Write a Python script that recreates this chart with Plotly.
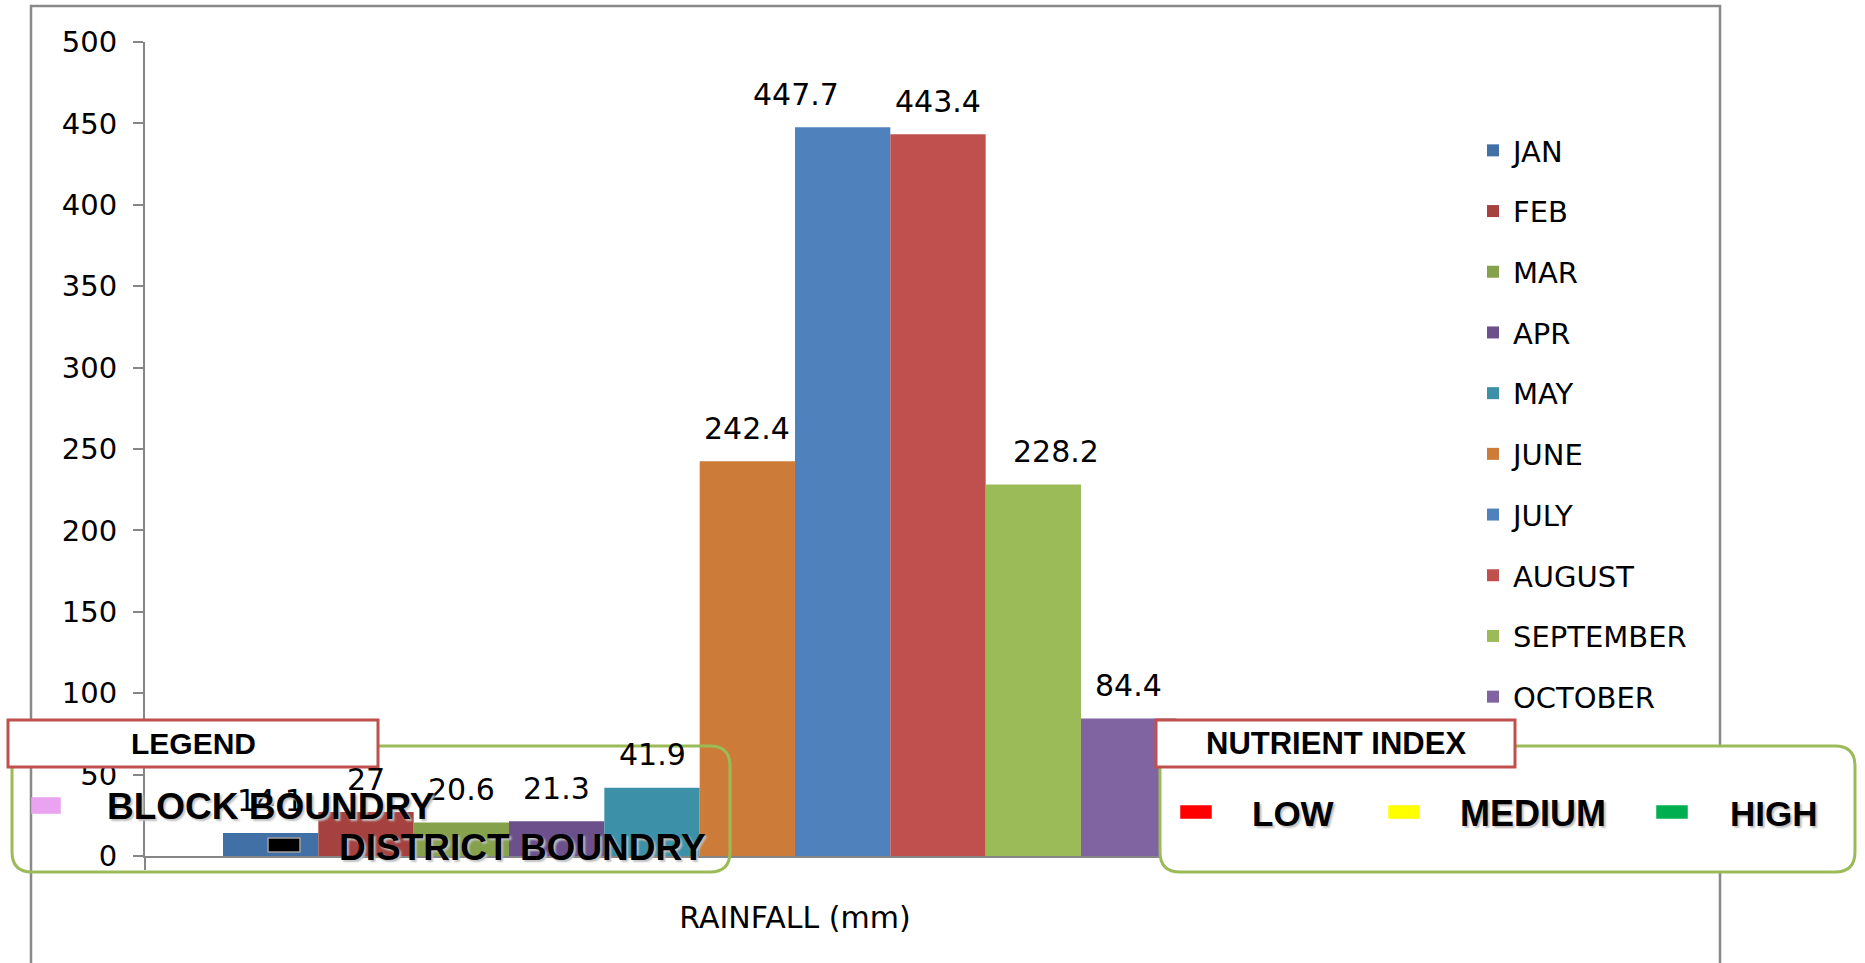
import plotly.graph_objects as go

# ---------------- data ----------------
months = ["JAN", "FEB", "MAR", "APR", "MAY", "JUNE", "JULY", "AUGUST",
          "SEPTEMBER", "OCTOBER", "NOVEMBER", "DECEMBER"]
rainfall = [14.1, 27, 20.6, 21.3, 41.9, 242.4, 447.7, 443.4, 228.2, 84.4, None, None]
category = ["RAINFALL (mm)"]
y_ticks = [0, 50, 100, 150, 200, 250, 300, 350, 400, 450, 500]
legend_items = ["BLOCK BOUNDRY", "DISTRICT BOUNDRY"]
nutrient_items = ["LOW", "MEDIUM", "HIGH"]

# ---------------- styles ----------------
colors = ["#4170A7", "#A5423F", "#86A14B", "#6C508C", "#3C90A7", "#CC7B39",
          "#4F81BD", "#C0504D", "#9BBB59", "#8064A2", "#F79646", "#2C4D75"]
label_nudge = {"JULY": -47, "SEPTEMBER": 23}

W, H = 1865, 963
PL, PR, PT, PB = 145, 1445, 42, 856
BARGAP = 0.12
N = len(months)


def X(px):
    return (px - PL) / (PR - PL)


def Y(py):
    return (PB - py) / (PB - PT)


def rrect(x0, y0, x1, y1, r):
    return (f"M {X(x0 + r)},{Y(y0)} L {X(x1 - r)},{Y(y0)} "
            f"Q {X(x1)},{Y(y0)} {X(x1)},{Y(y0 + r)} L {X(x1)},{Y(y1 - r)} "
            f"Q {X(x1)},{Y(y1)} {X(x1 - r)},{Y(y1)} L {X(x0 + r)},{Y(y1)} "
            f"Q {X(x0)},{Y(y1)} {X(x0)},{Y(y1 - r)} L {X(x0)},{Y(y0 + r)} "
            f"Q {X(x0)},{Y(y0)} {X(x0 + r)},{Y(y0)} Z")


FONT = "DejaVu Sans, Verdana, sans-serif"
BOLD = "Liberation Sans, Arial, sans-serif"

fig = go.Figure()
for i, (m, v) in enumerate(zip(months, rainfall)):
    fig.add_trace(go.Bar(
        x=category, y=[v], name=m, marker=dict(color=colors[i], line=dict(width=0)),
        legendgroup=m, showlegend=v is not None, hoverinfo="name+y",
    ))

# data labels
annotations = []
w = (1 - BARGAP) / N
for i, (m, v) in enumerate(zip(months, rainfall)):
    if v is None:
        continue
    xc = -(1 - BARGAP) / 2 + (i + 0.5) * w
    annotations.append(dict(
        x=xc, y=v, xref="x", yref="y", text=f"{v:g}", showarrow=False,
        yanchor="middle", xanchor="center", yshift=33, xshift=label_nudge.get(m, 0),
        font=dict(family=FONT, size=30, color="black"),
    ))

shapes = []
# outer chart border
shapes.append(dict(type="rect", xref="paper", yref="paper", x0=X(31), x1=X(1720),
                   y0=Y(6), y1=Y(1000), line=dict(color="#898989", width=2.5),
                   fillcolor="rgba(0,0,0,0)", layer="below"))
# left legend box (transparent)
shapes.append(dict(type="path", xref="paper", yref="paper", path=rrect(12, 746, 730, 872, 20),
                   line=dict(color="#9BBB59", width=3), fillcolor="rgba(0,0,0,0)", layer="above"))
# right nutrient box (white)
shapes.append(dict(type="path", xref="paper", yref="paper", path=rrect(1160, 746, 1855, 872, 20),
                   line=dict(color="#9BBB59", width=3), fillcolor="white", layer="above"))
# red header boxes
shapes.append(dict(type="rect", xref="paper", yref="paper", x0=X(8), x1=X(378), y0=Y(720), y1=Y(767),
                   line=dict(color="#C0504D", width=3), fillcolor="white", layer="above"))
shapes.append(dict(type="rect", xref="paper", yref="paper", x0=X(1156), x1=X(1515), y0=Y(720), y1=Y(767),
                   line=dict(color="#C0504D", width=3), fillcolor="white", layer="above"))
# legend swatches
swatches = [
    (32, 798, 60, 813, "#E9A3F0", "#E9A3F0"),
    (268, 838, 300, 852, "black", "#A0A0A0"),
    (1181, 806, 1211, 818, "#FF0000", "#FF0000"),
    (1389, 806, 1419, 818, "#FFFF00", "#FFFF00"),
    (1657, 806, 1687, 818, "#00B050", "#00B050"),
]
for x0, y0, x1, y1, fc, lc in swatches:
    shapes.append(dict(type="rect", xref="paper", yref="paper", x0=X(x0), x1=X(x1), y0=Y(y0), y1=Y(y1),
                       line=dict(color=lc, width=1.5), fillcolor=fc, layer="above"))

shadow = "2px 2px 2px #c0c0c0"
box_texts = [
    ("LEGEND", 193, 743, "center", 30),
    ("NUTRIENT INDEX", 1336, 743, "center", 31),
    (legend_items[0], 105, 806, "left", 37),
    (legend_items[1], 337, 847, "left", 37),
    (nutrient_items[0], 1250, 813, "left", 35),
    (nutrient_items[1], 1458, 813, "left", 36),
    (nutrient_items[2], 1728, 813, "left", 35),
]
for t, px, py, anc, sz in box_texts:
    annotations.append(dict(
        x=X(px), y=Y(py), xref="paper", yref="paper", text=f"<b>{t}</b>", showarrow=False,
        xanchor=anc, yanchor="middle",
        font=dict(family=BOLD, size=sz, color="black",
                  shadow=shadow if sz > 33 else "none"),
    ))

fig.update_layout(
    width=W, height=H, autosize=False,
    margin=dict(l=PL, r=W - PR, t=PT, b=H - PB, pad=0),
    paper_bgcolor="white", plot_bgcolor="white",
    barmode="group", bargap=BARGAP, bargroupgap=0,
    font=dict(family=FONT, color="black"),
    xaxis=dict(
        type="category", showline=True, linecolor="#868686", linewidth=2,
        ticks="outside", tickson="boundaries", ticklen=12, tickwidth=2, tickcolor="#868686",
        tickfont=dict(family=FONT, size=30, color="black"), ticklabelstandoff=34,
        showgrid=False, zeroline=False, fixedrange=True,
    ),
    yaxis=dict(
        range=[0, 500], tickvals=y_ticks, ticktext=[str(v) for v in y_ticks],
        showline=True, linecolor="#868686", linewidth=2,
        ticks="outside", ticklen=10, tickwidth=2, tickcolor="#868686",
        tickfont=dict(family=FONT, size=29, color="black"), ticklabelstandoff=10,
        showgrid=False, zeroline=False, fixedrange=True,
    ),
    legend=dict(
        x=X(1473), y=Y(125), xanchor="left", yanchor="top", xref="paper", yref="paper",
        font=dict(family=FONT, size=29, color="black"), tracegroupgap=20,
        bgcolor="rgba(0,0,0,0)", borderwidth=0, traceorder="grouped",
    ),
    shapes=shapes, annotations=annotations, showlegend=True,
)

fig.write_html("out.html")
